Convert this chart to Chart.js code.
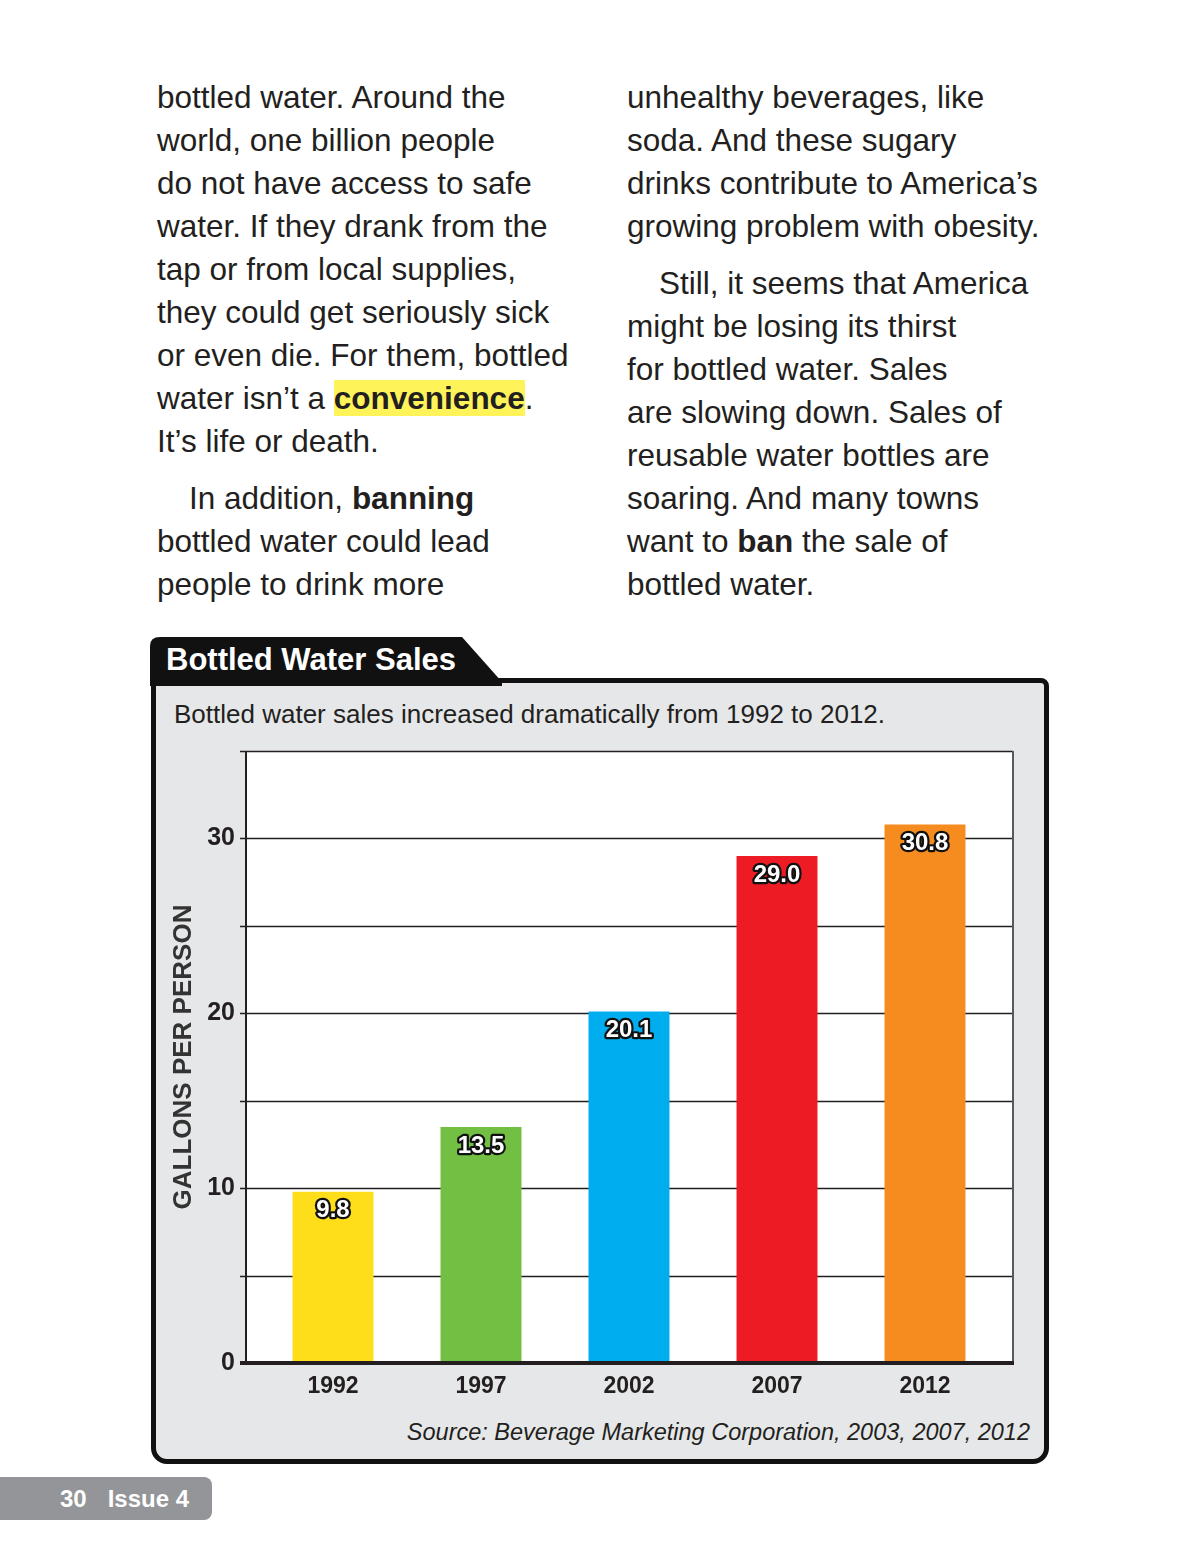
<!DOCTYPE html>
<html>
<head>
<meta charset="utf-8">
<title>Bottled Water Sales</title>
<script src="https://cdn.jsdelivr.net/npm/chart.js@4.4.1/dist/chart.umd.min.js"></script>
<style>
  body {
    margin: 0;
    width: 1200px;
    height: 1543px;
    background: #fff;
    position: relative;
    font-family: "Liberation Sans", Arial, sans-serif;
    color: #231f20;
    overflow: hidden;
  }
  .col {
    position: absolute;
    top: 76px;
    font-size: 31.5px;
    line-height: 43px;
    white-space: nowrap;
  }
  .col p {
    margin: 0;
  }
  .col p + p {
    margin-top: 14px;
    text-indent: 32px;
  }
  .hl {
    background: #fff35a;
    font-weight: bold;
  }
  .panel {
    position: absolute;
    left: 151px;
    top: 678px;
    width: 898px;
    height: 786px;
    box-sizing: border-box;
    border: 5px solid #111;
    border-radius: 0 8px 16px 16px;
    background: #e6e7e8;
  }
  .tab {
    position: absolute;
    left: 150px;
    top: 636px;
  }
  .tab-title {
    position: absolute;
    left: 166px;
    top: 642px;
    font-size: 31px;
    font-weight: bold;
    color: #fff;
    white-space: nowrap;
  }
  .subtitle {
    position: absolute;
    left: 174px;
    top: 699px;
    font-size: 26px;
    white-space: nowrap;
  }
  .source {
    position: absolute;
    right: 170px;
    top: 1419px;
    font-size: 23.5px;
    font-style: italic;
    white-space: nowrap;
  }
  #chartWrap {
    position: absolute;
    left: 160px;
    top: 735px;
    width: 880px;
    height: 680px;
  }
  .footer {
    position: absolute;
    left: 0;
    top: 1477px;
    width: 212px;
    height: 43px;
    background: #939598;
    border-radius: 0 8px 8px 0;
    color: #fff;
    font-weight: bold;
    font-size: 24px;
    line-height: 43px;
    white-space: nowrap;
  }
</style>
</head>
<body>

<div class="col" style="left:157px">
  <p>bottled water. Around the<br>world, one billion people<br>do not have access to safe<br>water. If they drank from the<br>tap or from local supplies,<br>they could get seriously sick<br>or even die. For them, bottled<br>water isn’t a <span class="hl">convenience</span>.<br>It’s life or death.</p>
  <p>In addition, <b>banning</b><br>bottled water could lead<br>people to drink more</p>
</div>
<div class="col" style="left:627px">
  <p>unhealthy beverages, like<br>soda. And these sugary<br>drinks contribute to America’s<br>growing problem with obesity.</p>
  <p>Still, it seems that America<br>might be losing its thirst<br>for bottled water. Sales<br>are slowing down. Sales of<br>reusable water bottles are<br>soaring. And many towns<br>want to <b>ban</b> the sale of<br>bottled water.</p>
</div>

<div class="panel"></div>
<svg class="tab" width="354" height="50">
  <path d="M0,50 L0,10 Q0,1 10,1 L312,1 L352,46 L352,50 Z" fill="#111"/>
</svg>
<div class="tab-title">Bottled Water Sales</div>
<div class="subtitle">Bottled water sales increased dramatically from 1992 to 2012.</div>

<div id="chartWrap">
  <canvas id="myChart" width="880" height="680"></canvas>
</div>

<div class="source">Source: Beverage Marketing Corporation, 2003, 2007, 2012</div>

<div class="footer"><span style="margin-left:60px">30</span><span style="margin-left:21px">Issue 4</span></div>

<script>
const years = ["1992", "1997", "2002", "2007", "2012"];
const gallons = [9.8, 13.5, 20.1, 29.0, 30.8];
const barColors = ["#fedd1a", "#72bf44", "#00aeef", "#ed1c24", "#f68b1f"];
const yTicks = [0, 10, 20, 30];
const yMax = 35;
const yStep = 5;

const ink = "#231f20";

// white plot box, grid lines and axes (box is a bit wider than the bar area)
const framePlugin = {
  id: "frame",
  beforeDatasetsDraw(chart) {
    const { ctx, chartArea } = chart;
    const y = chart.scales.y;
    const l = chartArea.left - 13;
    const r = chartArea.right + 14;
    ctx.save();
    ctx.fillStyle = "#fff";
    ctx.fillRect(l, chartArea.top, r - l, chartArea.bottom - chartArea.top);
    ctx.strokeStyle = ink;
    ctx.lineWidth = 1.5;
    for (let v = yStep; v <= yMax; v += yStep) {
      const py = Math.round(y.getPixelForValue(v)) + 0.5;
      ctx.beginPath();
      ctx.moveTo(l - 6, py);
      ctx.lineTo(r, py);
      ctx.stroke();
    }
    ctx.lineWidth = 2;
    ctx.beginPath();
    ctx.moveTo(l, chartArea.top);
    ctx.lineTo(l, chartArea.bottom);
    ctx.stroke();
    ctx.strokeStyle = "#58595b";
    ctx.beginPath();
    ctx.moveTo(r, chartArea.top);
    ctx.lineTo(r, chartArea.bottom);
    ctx.stroke();
    ctx.restore();
  },
  afterDatasetsDraw(chart) {
    const { ctx, chartArea } = chart;
    const l = chartArea.left - 13;
    const r = chartArea.right + 14;
    ctx.save();
    ctx.strokeStyle = ink;
    ctx.lineWidth = 4;
    ctx.beginPath();
    ctx.moveTo(l - 6, chartArea.bottom);
    ctx.lineTo(r + 1, chartArea.bottom);
    ctx.stroke();

    // value labels: white text with dark outline
    ctx.font = "bold 24px 'Liberation Sans', Arial, sans-serif";
    ctx.textAlign = "center";
    ctx.textBaseline = "middle";
    ctx.lineJoin = "round";
    chart.getDatasetMeta(0).data.forEach((bar, i) => {
      const txt = gallons[i].toFixed(1);
      ctx.lineWidth = 4.5;
      ctx.strokeStyle = "#111";
      ctx.strokeText(txt, bar.x, bar.y + 19);
      ctx.fillStyle = "#fff";
      ctx.fillText(txt, bar.x, bar.y + 19);
    });
    ctx.restore();
  },
};

const data = {
  labels: years,
  datasets: [
    {
      data: gallons,
      backgroundColor: barColors,
      borderWidth: 0,
      categoryPercentage: 1,
      barPercentage: 0.547,
    },
  ],
};

const config = {
  type: "bar",
  data: data,
  plugins: [framePlugin],
  options: {
    responsive: false,
    animation: false,
    devicePixelRatio: 1,
    layout: {
      padding: { top: 16, right: 41, left: 0, bottom: 0 },
    },
    scales: {
      y: {
        min: 0,
        max: yMax,
        afterFit(scale) {
          scale.width = 99;
          scale.paddingTop = 0;
          scale.paddingBottom = 0;
        },
        grid: { display: false, drawTicks: false },
        border: { display: false },
        ticks: {
          stepSize: yStep,
          padding: 24,
          color: ink,
          font: { family: "'Liberation Sans', Arial, sans-serif", size: 25, weight: "bold" },
          callback: (v) => (yTicks.includes(v) ? v : ""),
        },
        title: {
          display: true,
          text: "GALLONS PER PERSON",
          color: "#333",
          padding: { top: 8 },
          font: { family: "'Liberation Sans', Arial, sans-serif", size: 26, weight: "bold" },
        },
      },
      x: {
        afterFit(scale) {
          scale.height = 52;
        },
        grid: { display: false, drawTicks: false },
        border: { display: false },
        ticks: {
          padding: 10,
          color: ink,
          font: { family: "'Liberation Sans', Arial, sans-serif", size: 23, weight: "bold" },
        },
      },
    },
    plugins: {
      legend: { display: false },
      tooltip: { enabled: false },
    },
  },
};

const myChart = new Chart(document.getElementById("myChart"), config);
</script>
</body>
</html>
